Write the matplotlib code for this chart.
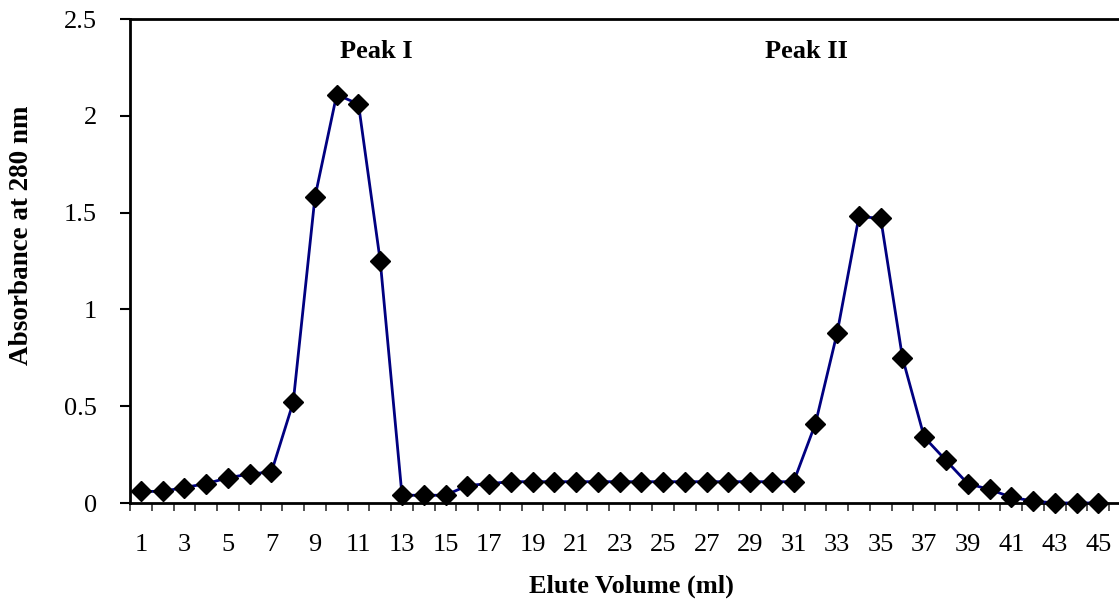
import numpy as np
import matplotlib
matplotlib.use("Agg")
import matplotlib.pyplot as plt
from matplotlib.ticker import FixedLocator, NullFormatter

plt.rcParams['font.family'] = ['Liberation Serif', 'DejaVu Serif']

# 洗脱体积 (ml) 与 280 nm 吸光度
volume = list(range(1, 46))
absorbance = [0.06, 0.06, 0.08, 0.10, 0.13, 0.15, 0.16, 0.52, 1.58, 2.11,
              2.06, 1.25, 0.04, 0.04, 0.04, 0.09, 0.10, 0.11, 0.11, 0.11,
              0.11, 0.11, 0.11, 0.11, 0.11, 0.11, 0.11, 0.11, 0.11, 0.11,
              0.11, 0.41, 0.88, 1.48, 1.47, 0.75, 0.34, 0.22, 0.10, 0.07,
              0.03, 0.01, 0.0, 0.0, 0.0]
xtick_labels = [str(v) for v in range(1, 46, 2)]
peak_names = ['Peak I', 'Peak II']
peak_pos = [11.8, 31.6]

fig = plt.figure(figsize=(11.19, 6.01), dpi=100)
ax = fig.add_axes([130 / 1119, 98 / 601, 989 / 1119, 484 / 601])

ax.plot(volume, absorbance, color='#000080', lw=2, marker='D',
        markersize=10, markerfacecolor='black', markeredgecolor='black',
        clip_on=False, zorder=3)

ax.set_xlim(0.5, 0.5 + 989 / 21.76)
ax.set_ylim(0, 2.5)

# x 轴：刻度线在类别之间，标签每隔一个
ax.xaxis.set_major_locator(FixedLocator(list(range(1, 46, 2))))
ax.set_xticklabels(xtick_labels)
ax.xaxis.set_minor_locator(FixedLocator(np.arange(0.5, 46, 1.0)))
ax.xaxis.set_minor_formatter(NullFormatter())
ax.tick_params(axis='x', which='major', length=0, pad=22, labelsize=19)
ax.tick_params(axis='x', which='minor', length=6, width=1.2,
               color='#333333', direction='out')

ax.set_yticks([0, 0.5, 1, 1.5, 2, 2.5])
ax.set_yticklabels(['0', '0.5', '1', '1.5', '2', '2.5'])
ax.tick_params(axis='y', length=7, width=1.5, direction='out', pad=17,
               labelsize=19)

for s in ['left', 'bottom', 'top']:
    ax.spines[s].set_linewidth(2)
    ax.spines[s].set_color('black')
ax.spines['right'].set_visible(False)

for name, pos in zip(peak_names, peak_pos):
    ax.text(pos, 2.33, name, ha='center', va='center', fontsize=19,
            fontweight='bold')

fig.text(22 / 1119, 1 - 235 / 601, 'Absorbance at 280 nm', rotation=90,
         ha='center', va='center', fontsize=19.5, fontweight='bold')
fig.text(631 / 1119, 1 - 586 / 601, 'Elute Volume (ml)', ha='center',
         va='center', fontsize=19, fontweight='bold')

fig.savefig('out.png', dpi=100)
